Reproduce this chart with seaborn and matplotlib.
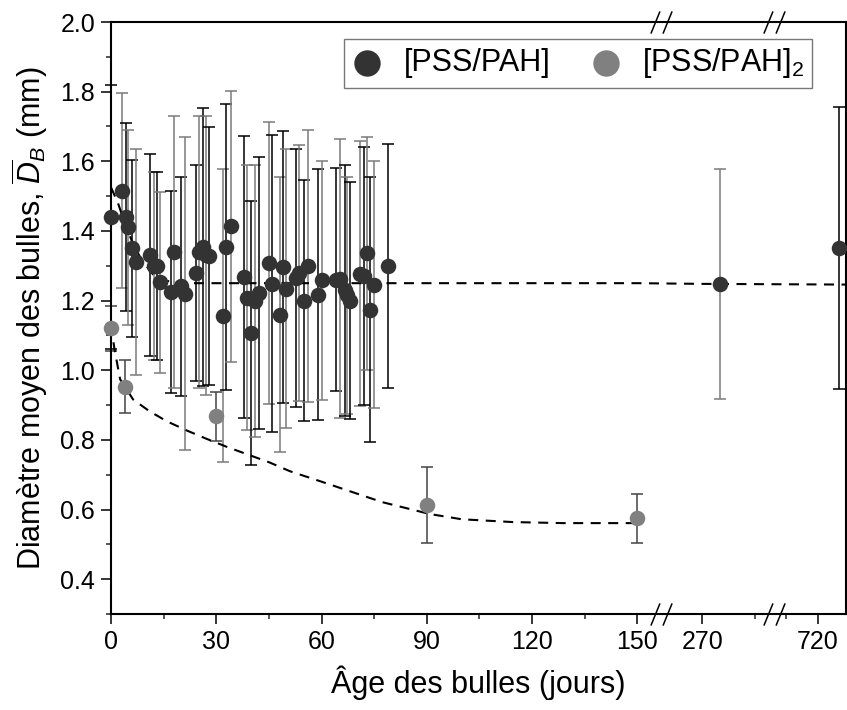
import numpy as np
import pandas as pd
import matplotlib
matplotlib.use("Agg")
import matplotlib.pyplot as plt
from matplotlib.path import Path
from matplotlib.ticker import FixedLocator, MultipleLocator, FormatStrFormatter
import seaborn as sns

# [PSS/PAH] : age (days), mean diameter (mm), error
age_1 = [0, 3, 4.2, 4.9, 6, 7, 11.1, 12.2, 13, 13.9, 17, 17.9, 19.9, 21, 24.1, 25, 26.1, 27, 28,
         32, 32.9, 34.1, 38, 38.9, 40, 41, 42.1, 45, 46, 48.1, 48.9, 50, 52.7, 53.5, 54.9, 56.1,
         59, 60, 64.2, 65.2, 66.6, 67.3, 68, 70.9, 72, 73, 73.8, 75, 78.9, 275, 726]
diam_1 = [1.44, 1.515, 1.44, 1.41, 1.35, 1.31, 1.33, 1.30, 1.298, 1.253, 1.224, 1.339, 1.241, 1.22,
          1.278, 1.339, 1.354, 1.33, 1.329, 1.157, 1.354, 1.413, 1.268, 1.208, 1.107, 1.198, 1.222,
          1.308, 1.249, 1.16, 1.297, 1.234, 1.265, 1.28, 1.20, 1.30, 1.217, 1.258, 1.26, 1.263,
          1.23, 1.215, 1.20, 1.277, 1.27, 1.336, 1.174, 1.246, 1.30, 1.248, 1.352]
err_1 = [0.38, 0.28, 0.27, 0.28, 0.255, 0.325, 0.29, 0.27, 0.27, 0.26, 0.29, 0.39, 0.315, 0.45,
         0.31, 0.39, 0.40, 0.40, 0.37, 0.42, 0.41, 0.39, 0.405, 0.38, 0.38, 0.39, 0.39, 0.405,
         0.427, 0.394, 0.39, 0.40, 0.37, 0.367, 0.347, 0.39, 0.36, 0.344, 0.32, 0.40, 0.36, 0.34,
         0.34, 0.38, 0.37, 0.335, 0.38, 0.355, 0.35, 0.33, 0.405]

# [PSS/PAH]2
age_2 = [0, 4, 30, 90, 150]
diam_2 = [1.12, 0.953, 0.868, 0.613, 0.575]
err_2 = [0.065, 0.075, 0.07, 0.11, 0.07]

# dashed fit curves
fit1_age = [0, 2, 4, 6, 8, 10, 12, 15, 20, 30, 150, 270, 500, 728]
fit1_diam = [1.525, 1.48, 1.42, 1.37, 1.33, 1.30, 1.275, 1.258, 1.25, 1.25, 1.25, 1.248, 1.247, 1.246]
fit2_age = [0, 1, 2.6, 6.3, 11, 16, 21.6, 27, 33, 38.7, 45, 51, 60, 70, 77.4, 90.9, 100,
            114.5, 128.7, 150]
fit2_diam = [1.13, 1.06, 0.974, 0.916, 0.882, 0.853, 0.827, 0.804, 0.78, 0.759, 0.736, 0.71,
             0.68, 0.646, 0.621, 0.587, 0.572, 0.564, 0.561, 0.561]

x_ticks = [0, 30, 60, 90, 120, 150, 270, 720]
x_minor = [15, 45, 75, 105, 135, 285, 711]
y_ticks = [0.4, 0.6, 0.8, 1.0, 1.2, 1.4, 1.6, 1.8, 2.0]

# broken x axis: data knots -> compressed axis units
brk_data = [-100, 0, 156, 259, 290, 708, 1000]
brk_axis = [-100, 0, 156, 157.5, 188.5, 189.5, 481.5]
breaks = [207.5, 499]


def fwd(x):
    return np.interp(x, brk_data, brk_axis)


def inv(u):
    return np.interp(u, brk_axis, brk_data)


sns.set_style("ticks")
plt.rcParams['font.family'] = ['Liberation Sans', 'DejaVu Sans']
plt.rcParams['mathtext.fontset'] = 'custom'
plt.rcParams['mathtext.rm'] = 'Liberation Sans'
plt.rcParams['mathtext.it'] = 'Liberation Sans:italic'
plt.rcParams['text.color'] = 'black'
plt.rcParams['axes.labelcolor'] = 'black'

fig = plt.figure(figsize=(8.47, 7.10), dpi=100)
ax = fig.add_axes([111 / 847, 1 - 614 / 710, 735 / 847, 592 / 710])
ax.set_xscale('function', functions=(fwd, inv))

dash = (0, (4.8, 3.6))
ax.plot(fit1_age, fit1_diam, color='black', lw=1.5, linestyle=dash, zorder=2)
ax.plot(fit2_age, fit2_diam, color='black', lw=1.5, linestyle=dash, zorder=2)

for i, (xv, yv, ev) in enumerate(zip(age_1, diam_1, err_1)):
    ax.errorbar(xv, yv, yerr=ev, fmt='none', ecolor='black' if i % 2 == 0 else '#7a7a7a',
                elinewidth=1.1, capsize=4.5, capthick=1.1, zorder=1, clip_on=False)
ax.errorbar(age_2, diam_2, yerr=err_2, fmt='none', ecolor='#444444', elinewidth=1.1,
            capsize=4.5, capthick=1.1, zorder=1, clip_on=False)

df1 = pd.DataFrame({'age': age_1, 'diam': diam_1})
df2 = pd.DataFrame({'age': age_2, 'diam': diam_2})
sns.scatterplot(data=df1, x='age', y='diam', color='#333333', s=125, linewidth=0,
                label='[PSS/PAH]', ax=ax, zorder=3, clip_on=False)
sns.scatterplot(data=df2, x='age', y='diam', color='#808080', s=125, linewidth=0,
                label='[PSS/PAH]$_2$', ax=ax, zorder=3, clip_on=False)

ax.set_xlim(0, 728)
ax.set_ylim(0.3, 2.0)
ax.xaxis.set_major_locator(FixedLocator(x_ticks))
ax.xaxis.set_minor_locator(FixedLocator(x_minor))
ax.xaxis.set_major_formatter(FormatStrFormatter('%d'))
ax.yaxis.set_major_locator(FixedLocator(y_ticks))
ax.yaxis.set_minor_locator(MultipleLocator(0.1))
ax.yaxis.set_major_formatter(FormatStrFormatter('%.1f'))

for sp in ax.spines.values():
    sp.set_linewidth(1.5)
    sp.set_color('black')
ax.tick_params(which='major', direction='out', length=7.5, width=1.1, labelsize=18,
               pad=4, colors='black')
ax.tick_params(which='minor', direction='out', length=3.5, width=1.1)
ax.tick_params(top=False, right=False, which='both')

# break marks "//" on top and bottom spines
slash = Path([(-10.5, -11), (-1.5, 11), (1.5, -11), (10.5, 11)],
             [Path.MOVETO, Path.LINETO, Path.MOVETO, Path.LINETO])
trans = ax.get_xaxis_transform()
for b in breaks:
    for yy in (0, 1):
        ax.plot([b], [yy], marker=slash, markersize=16, color='black', mew=1.1,
                transform=trans, clip_on=False, zorder=5)

ax.set_xlabel('Âge des bulles (jours)', fontsize=22, labelpad=8)
ax.set_ylabel('Diamètre moyen des bulles, $\\overline{D}_B$ (mm)', fontsize=22, labelpad=7)

leg = ax.legend(ncol=2, loc='upper right', bbox_to_anchor=(0.954, 0.972), fontsize=22,
                frameon=True, fancybox=False, edgecolor='#555555', markerscale=1.7,
                handlelength=1.0, handletextpad=0.7, columnspacing=1.3, borderpad=0.25,
                borderaxespad=0)
leg.get_frame().set_linewidth(1.0)

fig.savefig('out.png', dpi=100)
